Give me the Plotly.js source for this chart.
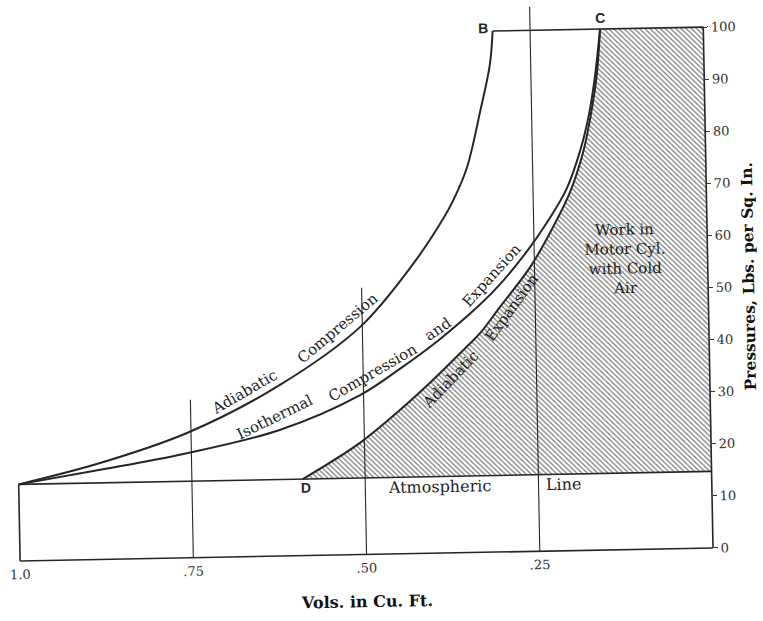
<!DOCTYPE html>
<html>
<head>
<meta charset="utf-8">
<script src="https://cdn.plot.ly/plotly-3.0.1.min.js"></script>
<style>
html,body{margin:0;padding:0;background:#ffffff;overflow:hidden;}
#chart{width:763px;height:621px;transform:rotate(-1.07deg);transform-origin:713px 548px;}
</style>
</head>
<body>
<div id="chart"></div>
<script>
// ---- data (volume in cu. ft., pressure in lbs per sq. in.) ----
const atmPressure = 14.7;
const topPressure = 100;
const startVol = 1.0;
const endVol = 0;

const adiabaticCompVol = [1.0, 0.882, 0.755, 0.621, 0.503, 0.425, 0.385, 0.366, 0.345, 0.324, 0.309, 0.304];
const adiabaticCompP   = [14.7, 18.5, 24.0, 32.8, 43.7, 55.6, 63.2, 67.5, 73.8, 84.7, 93.5, 100];

const isothermalVol = [1.0, 0.882, 0.767, 0.622, 0.505, 0.447, 0.388, 0.330, 0.300, 0.261, 0.231, 0.201, 0.181, 0.170, 0.159, 0.149];
const isothermalP   = [14.7, 17.2, 19.8, 24.2, 30.6, 35.5, 41.1, 47.5, 51.4, 57.5, 63.0, 69.6, 76.7, 82.0, 89.7, 100];

const adiabaticExpVol = [0.590, 0.507, 0.448, 0.400, 0.350, 0.330, 0.301, 0.256, 0.227, 0.197, 0.177, 0.166, 0.155, 0.149];
const adiabaticExpP   = [14.7, 21.4, 27.6, 33.2, 39.5, 42.1, 47.0, 54.6, 61.0, 68.7, 76.3, 82.6, 91.2, 100];

const ordinateVols = [0.75, 0.50, 0.25];
const ordinateTops = [30.3, 51.2, 104.5];

const xTickVals = [1.0, 0.75, 0.50, 0.25];
const xTickText = ['1.0', '.75', '.50', '.25'];
const yTickVals = [0, 10, 20, 30, 40, 50, 60, 70, 80, 90, 100];

// ---- styles ----
const ink = '#262626';
const serif = 'DejaVu Serif, Liberation Serif, serif';
const sans = 'Liberation Sans, Arial, sans-serif';

const traces = [];

// hatched work area: D -> adiabatic expansion -> C -> top right -> L -> D
const hatchX = adiabaticExpVol.concat([endVol, endVol, adiabaticExpVol[0]]);
const hatchY = adiabaticExpP.concat([topPressure, atmPressure, atmPressure]);
traces.push({
  type: 'scatter', mode: 'lines', x: hatchX, y: hatchY,
  fill: 'toself', fillcolor: 'rgba(0,0,0,0)',
  fillpattern: {shape: '\\', size: 3.6, solidity: 0.33, fgcolor: '#777777', bgcolor: '#ffffff'},
  line: {width: 0, color: 'rgba(0,0,0,0)', shape: 'linear'}, hoverinfo: 'skip'
});

function seg(x, y, w, shape) {
  traces.push({type: 'scatter', mode: 'lines', x: x, y: y,
    line: {color: ink, width: w, shape: shape || 'linear', smoothing: 1}, hoverinfo: 'skip'});
}

// frame
seg([startVol, endVol], [0, 0], 1.6);
seg([startVol, startVol], [0, atmPressure], 1.6);
seg([startVol, endVol], [atmPressure, atmPressure], 1.6);
seg([endVol, endVol], [0, topPressure], 1.6);
seg([adiabaticCompVol[adiabaticCompVol.length - 1], endVol], [topPressure, topPressure], 1.6);
// ordinates
ordinateVols.forEach((v, i) => seg([v, v], [0, ordinateTops[i]], 1.1));
// curves
seg(adiabaticCompVol, adiabaticCompP, 2.0, 'spline');
seg(isothermalVol, isothermalP, 2.0, 'spline');
seg(adiabaticExpVol, adiabaticExpP, 2.0, 'spline');

// ---- annotations ----
const ann = [];
function letter(t, x, y) {
  ann.push({x: x, y: y, xref: 'x', yref: 'y', text: t, showarrow: false,
    font: {family: sans, size: 14, color: ink, weight: 'bold'}});
}
letter('A', 1.016, 15.56);
letter('B', 0.318, 100.6);
letter('C', 0.1488, 102.2);
letter('D', 0.5857, 12.97);
letter('L', -0.0136, 14.76);

function label(t, x, y, ang, size) {
  ann.push({x: x, y: y, xref: 'x', yref: 'y', text: t, showarrow: false, textangle: ang,
    font: {family: serif, size: size || 15, color: '#1e1e1e'}});
}
label('Adiabatic', 0.6713, 31.6, -29);
label('Compression', 0.5354, 43.6, -39);
label('Isothermal', 0.6286, 26.7, -25);
label('Compression', 0.4856, 35.0, -29);
label('and', 0.3908, 43.0, -33);
label('Expansion', 0.3118, 53.2, -47);
label('Adiabatic', 0.3749, 33.3, -45);
label('Expansion', 0.284, 46.8, -53);
label('Atmospheric', 0.3923, 12.68, 0, 16);
label('Line', 0.2133, 12.8, 0, 16);
ann.push({x: 0.1192, y: 55.8, xref: 'x', yref: 'y', showarrow: false, align: 'center',
  text: 'Work in<br>Motor Cyl.<br>with Cold<br>Air',
  font: {family: serif, size: 15, color: '#1e1e1e'}});

const xmax = 1.011544, xmin = -0.011544;
const ymin = -0.95969, ymax = 104.98848;

const layout = {
  width: 763, height: 621,
  margin: {l: 12, r: 42, t: 1, b: 68, pad: 0},
  paper_bgcolor: '#ffffff', plot_bgcolor: 'rgba(0,0,0,0)',
  showlegend: false,
  xaxis: {
    range: [xmax, xmin], anchor: 'free', position: 0.009058,
    tickvals: xTickVals, ticktext: xTickText, ticks: '', ticklabelstandoff: 4,
    showgrid: false, zeroline: false, showline: false,
    tickfont: {family: serif, size: 13, color: '#333'},
    title: {text: 'Vols. in Cu. Ft.', font: {family: serif, size: 16, color: '#111', weight: 'bold'}, standoff: 21}
  },
  yaxis: {
    range: [ymin, ymax], side: 'right', anchor: 'free', position: 0.98872,
    tickvals: yTickVals, ticks: 'outside', ticklen: 4, tickwidth: 1, tickcolor: '#333',
    showgrid: false, zeroline: false, showline: false,
    tickfont: {family: serif, size: 13, color: '#333'},
    title: {text: 'Pressures, Lbs. per Sq. In.', font: {family: serif, size: 15.5, color: '#111', weight: 'bold'}, standoff: 12}
  },
  annotations: ann
};

Plotly.newPlot('chart', traces, layout, {staticPlot: true, displayModeBar: false});
</script>
</body>
</html>
